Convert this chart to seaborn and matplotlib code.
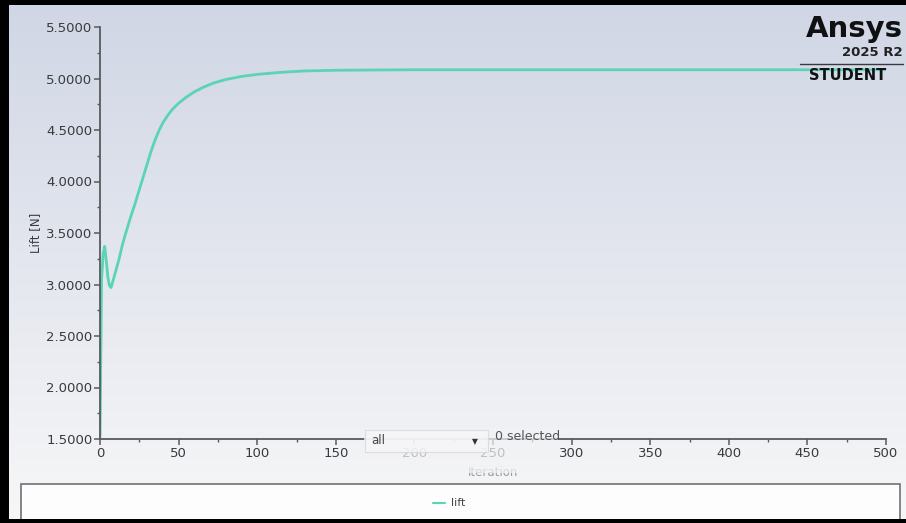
import numpy as np
import pandas as pd
import matplotlib
matplotlib.use("Agg")
import matplotlib.pyplot as plt
import seaborn as sns
from matplotlib.patches import Rectangle
from matplotlib.ticker import MultipleLocator, FormatStrFormatter

# Lift convergence history
iteration = [0, 1, 2, 3, 4, 5, 6, 7, 8, 10, 12, 14, 16, 18, 20, 22, 24, 26, 28,
             30, 32, 34, 36, 38, 40, 43, 46, 50, 55, 60, 65, 72, 80, 90, 100, 115,
             130, 150, 200, 300, 400, 500]
lift = [1.52, 3.05, 3.30, 3.37, 3.23, 3.07, 2.99, 2.97, 3.02, 3.13, 3.24, 3.37, 3.48,
        3.58, 3.68, 3.77, 3.87, 3.97, 4.07, 4.17, 4.27, 4.36, 4.44, 4.51, 4.57, 4.64,
        4.70, 4.76, 4.82, 4.87, 4.91, 4.955, 4.99, 5.02, 5.04, 5.06, 5.073, 5.08,
        5.085, 5.085, 5.085, 5.085]
series_name = "lift"

x_ticks = [0, 50, 100, 150, 200, 250, 300, 350, 400, 450, 500]
y_ticks = [1.5, 2.0, 2.5, 3.0, 3.5, 4.0, 4.5, 5.0, 5.5]

df = pd.DataFrame({"Iteration": iteration, "Lift [N]": lift, "series": series_name})

sns.set_theme(style="white")
plt.rcParams["font.family"] = ["DejaVu Sans"]

W, H = 906, 523
fig = plt.figure(figsize=(W / 100, H / 100), dpi=100)

# Soft vertical gradient background
bg = fig.add_axes([0, 0, 1, 1], zorder=-10)
grad = np.linspace(0, 1, 256).reshape(-1, 1)
top = np.array([208, 214, 229]) / 255
bot = np.array([247, 247, 248]) / 255
img = top[None, None, :] * (1 - grad[..., None]) + bot[None, None, :] * grad[..., None]
bg.imshow(img, aspect="auto", extent=[0, 1, 0, 1], origin="upper")
bg.set_axis_off()

line_color = "#5ad4b4"
ax = fig.add_axes([100 / W, 1 - 439 / H, 786 / W, 412 / H])
ax.set_facecolor("none")
sns.lineplot(data=df, x="Iteration", y="Lift [N]", ax=ax, color=line_color,
             linewidth=2.0, legend=False)

ax.set_xlim(0, 500)
ax.set_ylim(1.5, 5.5)
ax.set_xticks(x_ticks)
ax.set_yticks(y_ticks)
ax.yaxis.set_major_formatter(FormatStrFormatter("%.4f"))
ax.xaxis.set_minor_locator(MultipleLocator(25))
ax.yaxis.set_minor_locator(MultipleLocator(0.25))

spine_c = "#5a5a5e"
for s in ["top", "right"]:
    ax.spines[s].set_visible(False)
for s in ["left", "bottom"]:
    ax.spines[s].set_color(spine_c)
    ax.spines[s].set_linewidth(1.3)
ax.tick_params(axis="both", which="major", direction="out", length=4, width=1.1,
               color=spine_c, labelsize=9.5, labelcolor="#3a3a3e", pad=1.5)
ax.tick_params(axis="both", which="minor", direction="out", length=2.5, width=1.0,
               color=spine_c)
ax.tick_params(left=True, bottom=True, which="both")
ax.set_xlabel("Iteration", fontsize=8.5, color="#9a9a9e")
ax.set_ylabel("Lift [N]", fontsize=8.5, color="#3a3a3e")
ax.xaxis.set_label_coords(0.5, -0.066)
ax.yaxis.set_label_coords(-0.074, 0.5)

# Dropdown overlay panel
ov = fig.add_axes([0, 0, 1, 1], zorder=5)
ov.set_xlim(0, W)
ov.set_ylim(H, 0)
ov.set_axis_off()
ov.add_patch(Rectangle((364, 429), 194, 44, facecolor="#f2f3f5", edgecolor="none", alpha=0.72))
ov.add_patch(Rectangle((365, 430), 123, 22, facecolor="#f7f7f8", edgecolor="#d6d6da",
                       linewidth=0.8, alpha=0.75))
ov.text(371, 441, "all", fontsize=8.5, color="#444448", va="center", ha="left")
ov.text(475, 442, "\u25BC", fontsize=5.5, color="#333336", va="center", ha="center")
ov.text(495, 437, "0 selected", fontsize=9, color="#555558", va="center", ha="left")

# Legend panel
ov.add_patch(Rectangle((21, 484), 879, 40, facecolor="#fdfdfd", edgecolor="#7c7c80",
                       linewidth=1.3))
ov.plot([433, 445], [503, 503], color=line_color, linewidth=1.5)
ov.text(451, 503, series_name, fontsize=8, color="#444448", va="center", ha="left")

# Branding block
ov.text(903, 29, "Ansys", fontsize=21, fontweight="bold", color="#111114",
        ha="right", va="center")
ov.text(903, 53, "2025 R2", fontsize=9.5, fontweight="bold", color="#222225",
        ha="right", va="center")
ov.plot([800, 903], [64, 64], color="#3a3a3e", linewidth=1.0)
ov.text(809, 76, "STUDENT", fontsize=10.5, fontweight="bold", color="#111114",
        ha="left", va="center")

# Dark frame on top, left and bottom edges
ov.add_patch(Rectangle((0, 0), W, 5, facecolor="black", edgecolor="none"))
ov.add_patch(Rectangle((0, 0), 9, H, facecolor="black", edgecolor="none"))
ov.add_patch(Rectangle((0, 519), W, 4, facecolor="black", edgecolor="none"))

fig.savefig("out.png", dpi=100)
